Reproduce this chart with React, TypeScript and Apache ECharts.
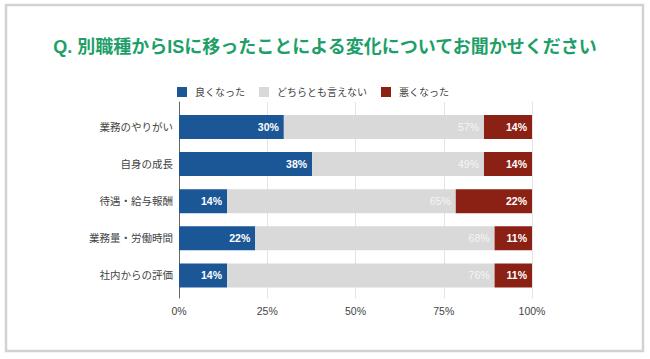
import React, { useEffect, useRef } from "react";
import * as echarts from "echarts";

const titleText = "Q. 別職種からISに移ったことによる変化についてお聞かせください";
const categories = ["業務のやりがい", "自身の成長", "待遇・給与報酬", "業務量・労働時間", "社内からの評価"];
const seriesNames = ["良くなった", "どちらとも言えない", "悪くなった"];
const better = [29.7, 37.7, 13.6, 21.6, 13.6];
const neutral = [56.7, 48.7, 64.8, 67.8, 75.8];
const worse = [13.6, 13.6, 21.6, 10.6, 10.6];
const xTicks = [0, 25, 50, 75, 100];

const FONT = "'Liberation Sans', 'Noto Sans CJK JP', sans-serif";

export default function App() {
  const ref = useRef<HTMLDivElement>(null);
  useEffect(() => {
    if (!ref.current) return;
    const chart = echarts.init(ref.current, undefined, { renderer: "svg" });
    const colors = ["#1b5797", "#d9d9d9", "#8b2014"];
    const labelColors = ["#ffffff", "#f5f5f5", "#ffffff"];
    const labelWeights = ["bold", "normal", "bold"];
    const datas = [better, neutral, worse];
    chart.setOption({
      animation: false,
      textStyle: { fontFamily: FONT },
      title: {
        text: titleText,
        left: "center",
        top: 33,
        textStyle: { color: "#1e9f69", fontSize: 18, fontWeight: "bold", fontFamily: FONT },
      },
      legend: {
        data: seriesNames,
        left: 172,
        top: 82,
        itemWidth: 10,
        itemHeight: 10,
        itemGap: 14,
        icon: "rect",
        textStyle: { fontSize: 10, color: "#444", fontFamily: FONT, padding: [0, 0, 0, 3] },
      },
      graphic: [
        {
          type: "rect",
          shape: { x: 6, y: 5, width: 637, height: 346 },
          style: { fill: "none", stroke: "#d2d2d2", lineWidth: 2.5 },
          silent: true,
          z: -10,
        },
      ],
      grid: [
        { left: 179, right: 118, top: 108.4, bottom: 65 },
        { left: 179, right: 118, top: 102, bottom: 61 },
      ],
      xAxis: [
        {
          gridIndex: 0,
          type: "value",
          min: 0,
          max: 100,
          show: false,
        },
        {
          gridIndex: 1,
          type: "value",
          min: 0,
          max: 100,
          interval: 25,
          axisLine: { show: false },
          axisTick: { show: false },
          axisLabel: {
            formatter: (v: number) => (xTicks.includes(v) ? v + "%" : ""),
            color: "#444",
            fontSize: 10.5,
            margin: 8,
            fontFamily: FONT,
          },
          splitLine: { show: true, lineStyle: { color: "#e3e3e3", width: 1 } },
        },
      ],
      yAxis: [
        {
          gridIndex: 0,
          type: "category",
          data: categories,
          inverse: true,
          axisLine: { show: false },
          axisTick: { show: false },
          axisLabel: { color: "#444", fontSize: 10.5, margin: 6, fontFamily: FONT },
        },
        {
          gridIndex: 1,
          type: "value",
          min: 0,
          max: 1,
          axisLine: { show: true, lineStyle: { color: "#666", width: 1 } },
          axisTick: { show: false },
          axisLabel: { show: false },
          splitLine: { show: false },
        },
      ],
      series: seriesNames.map((name, i) => ({
        name,
        type: "bar",
        stack: "total",
        xAxisIndex: 0,
        yAxisIndex: 0,
        barWidth: 24,
        data: datas[i],
        itemStyle: { color: colors[i] },
        label: {
          show: true,
          position: "insideRight",
          distance: 5,
          formatter: (p: any) => Math.round(p.value) + "%",
          color: labelColors[i],
          fontWeight: labelWeights[i],
          fontSize: 10.5,
          fontFamily: FONT,
        },
        z: 5,
      })),
    });
    return () => chart.dispose();
  }, []);
  return (
    <div
      ref={ref}
      style={{ position: "fixed", left: 0, top: 0, width: 650, height: 359, background: "#fff" }}
    />
  );
}
